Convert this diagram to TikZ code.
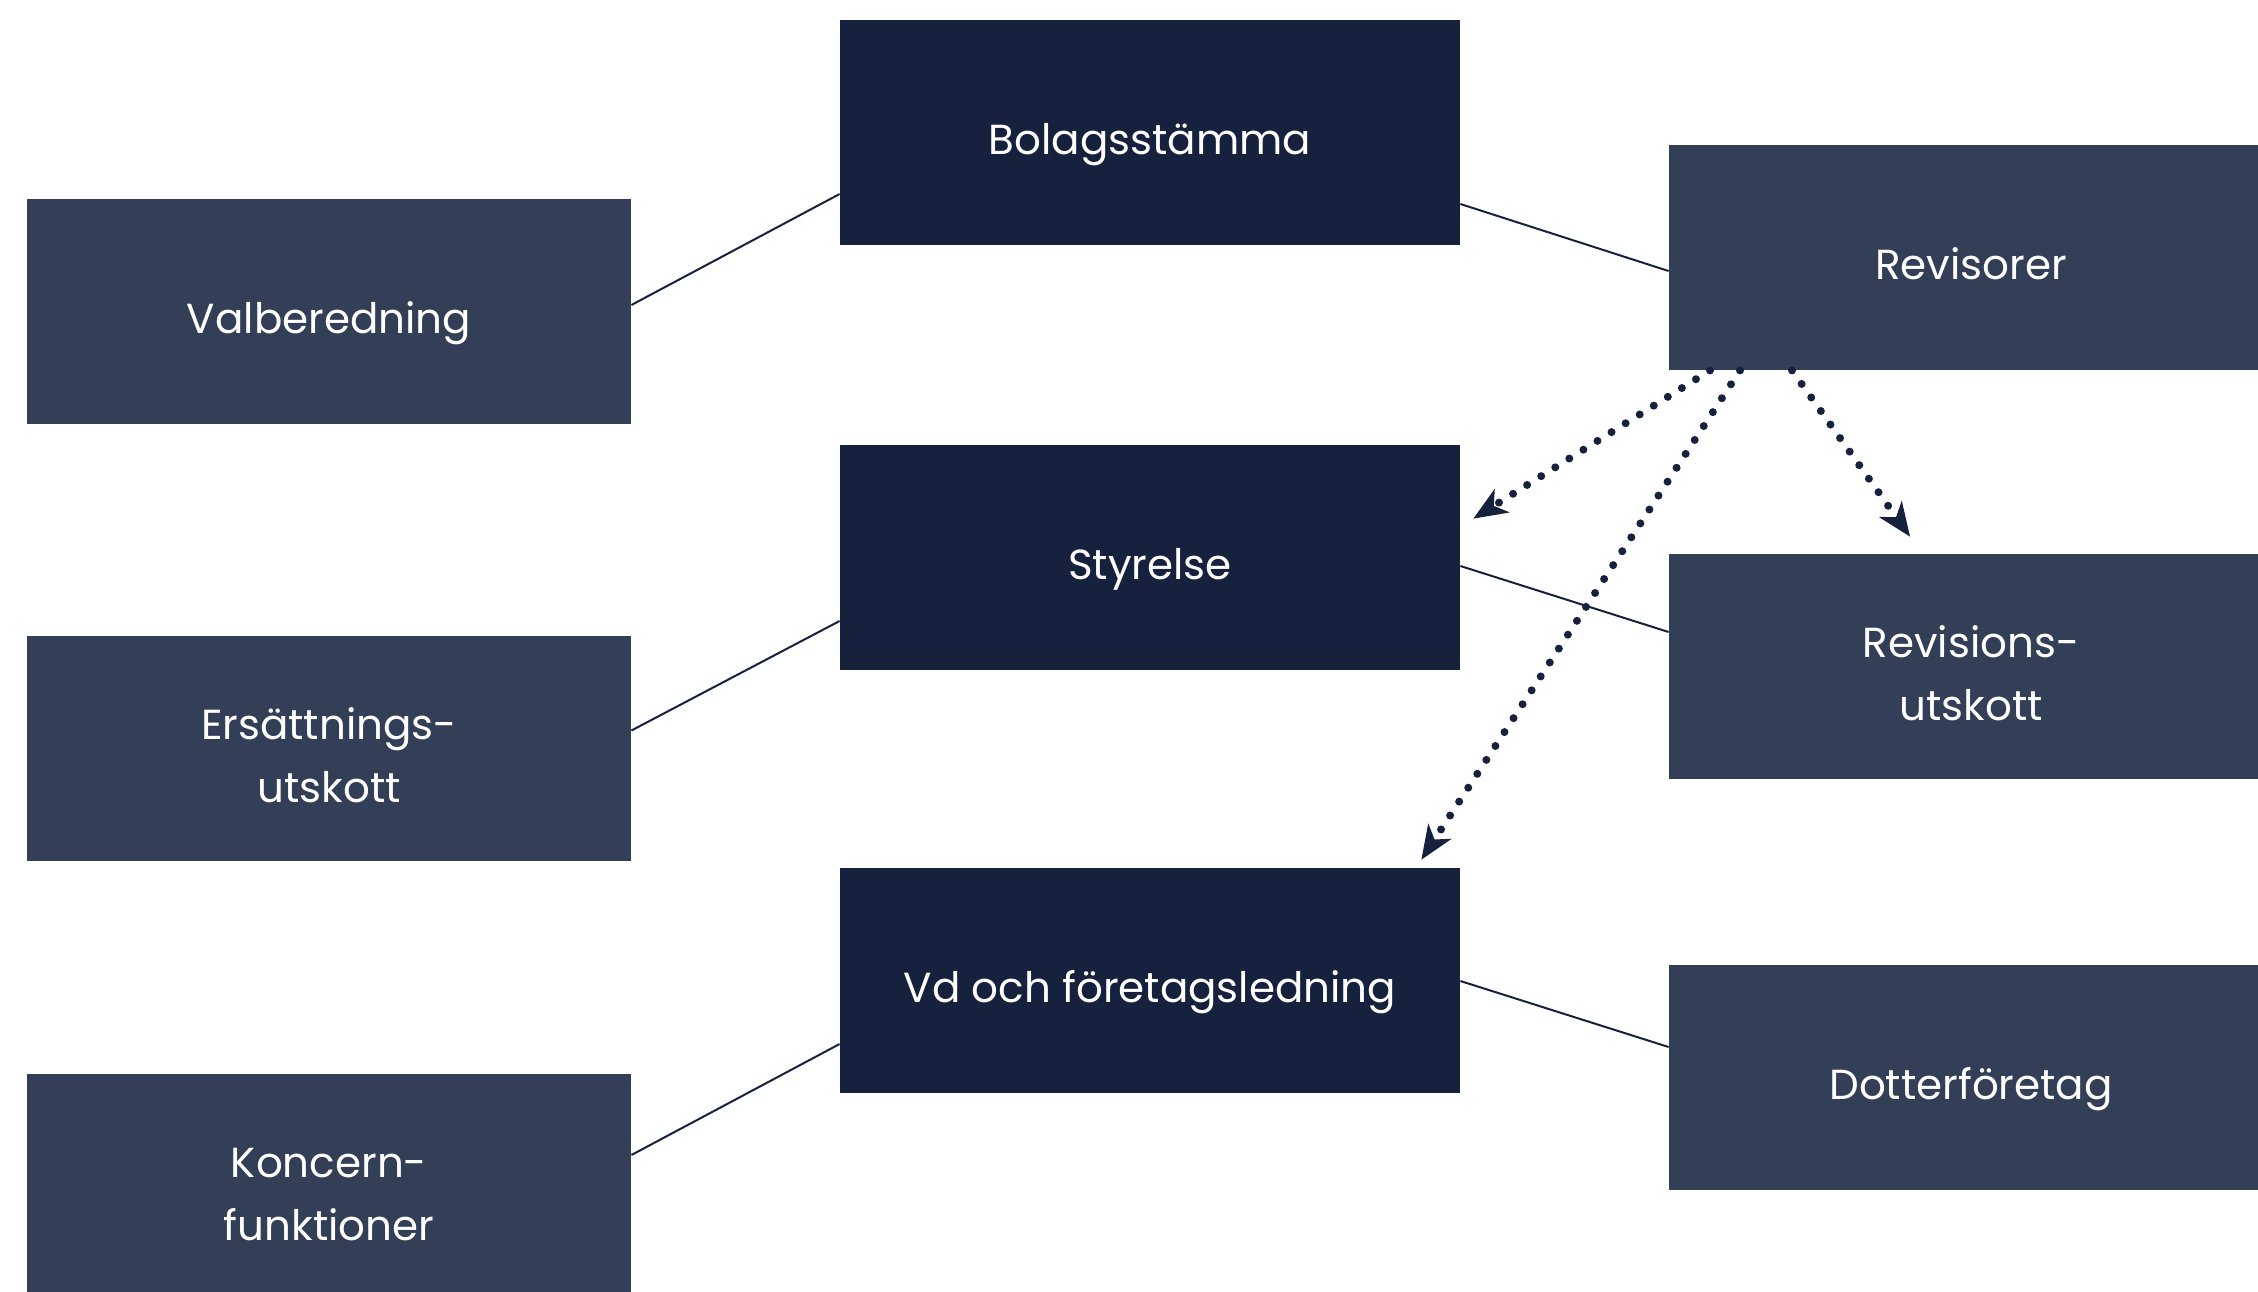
\documentclass[tikz,border=0pt]{standalone}
\usepackage{fontspec}
\setmainfont{Poppins}
\usetikzlibrary{arrows.meta,calc}
\definecolor{navy}{HTML}{16213E}
\definecolor{slate}{HTML}{333F57}
\begin{document}
\begin{tikzpicture}[x=0.5pt,y=-0.5pt,
  basebox/.style={text=white, inner sep=0pt, align=center, font=\fontsize{21}{31.5}\selectfont},
  mainbox/.style={basebox, fill=navy, minimum width=310pt, minimum height=112.5pt},
  sidebox/.style={basebox, fill=slate, minimum width=302pt, minimum height=112.5pt},
  oneline/.style={text height=22pt, text depth=0pt},
  twoline/.style={text height=53.5pt, text depth=0pt},
  link/.style={draw=navy, line width=1pt},
  dotarrow/.style={draw=navy, line width=4pt, line cap=round, dash pattern=on 0pt off 8.3pt,
    -{Stealth[length=17pt, width=14pt, inset=5pt, line width=0.5pt]}}]
\useasboundingbox (0,0) rectangle (2258,1291);
% middle column
\node[mainbox, oneline] (bol) at (1150,132.5) {Bolagsstämma};
\node[mainbox, oneline] (sty) at (1150,557.5) {Styrelse};
\node[mainbox, oneline] (vd)  at (1150,980.5) {Vd och företagsledning};
% left column
\node[sidebox, oneline] (val) at (329,311) {Valberedning};
\node[sidebox, twoline] (ers) at (329,748.5) {Ersättnings-\\utskott};
\node[sidebox, twoline] (kon) at (329,1186.5) {Koncern-\\funktioner};
% right column
\node[sidebox, oneline] (rev) at (1971,257.5) {Revisorer};
\node[sidebox, twoline] (rus) at (1971,666.5) {Revisions-\\utskott};
\node[sidebox, oneline] (dot) at (1971,1077) {Dotterföretag};
% solid links
\draw[link] ($(val.east)+(0,-6)$) -- ($(bol.west)+(0,61.5)$);
\draw[link] ($(bol.east)+(0,71.5)$) -- ($(rev.west)+(0,13.5)$);
\draw[link] ($(ers.east)+(0,-18)$) -- ($(sty.west)+(0,63.5)$);
\draw[link] ($(sty.east)+(0,8.5)$) -- ($(rus.west)+(0,-34.5)$);
\draw[link] ($(kon.east)+(0,-31.5)$) -- ($(vd.west)+(0,63.5)$);
\draw[link] ($(vd.east)+(0,0.5)$) -- ($(dot.west)+(0,-30)$);
% dotted arrows
\coordinate (t1) at ($(sty.north east)+(13,74)$);
\coordinate (t2) at ($(vd.north east)+(-39,-8)$);
\coordinate (t3) at ($(rus.north)+(-61,-17)$);
\draw[dotarrow] ($(rev.south)+(-261,0)$) -- (t1);
\draw[dotarrow] ($(rev.south)+(-231,0)$) -- (t2);
\draw[dotarrow] ($(rev.south)+(-179,0)$) -- (t3);
\end{tikzpicture}
\end{document}
